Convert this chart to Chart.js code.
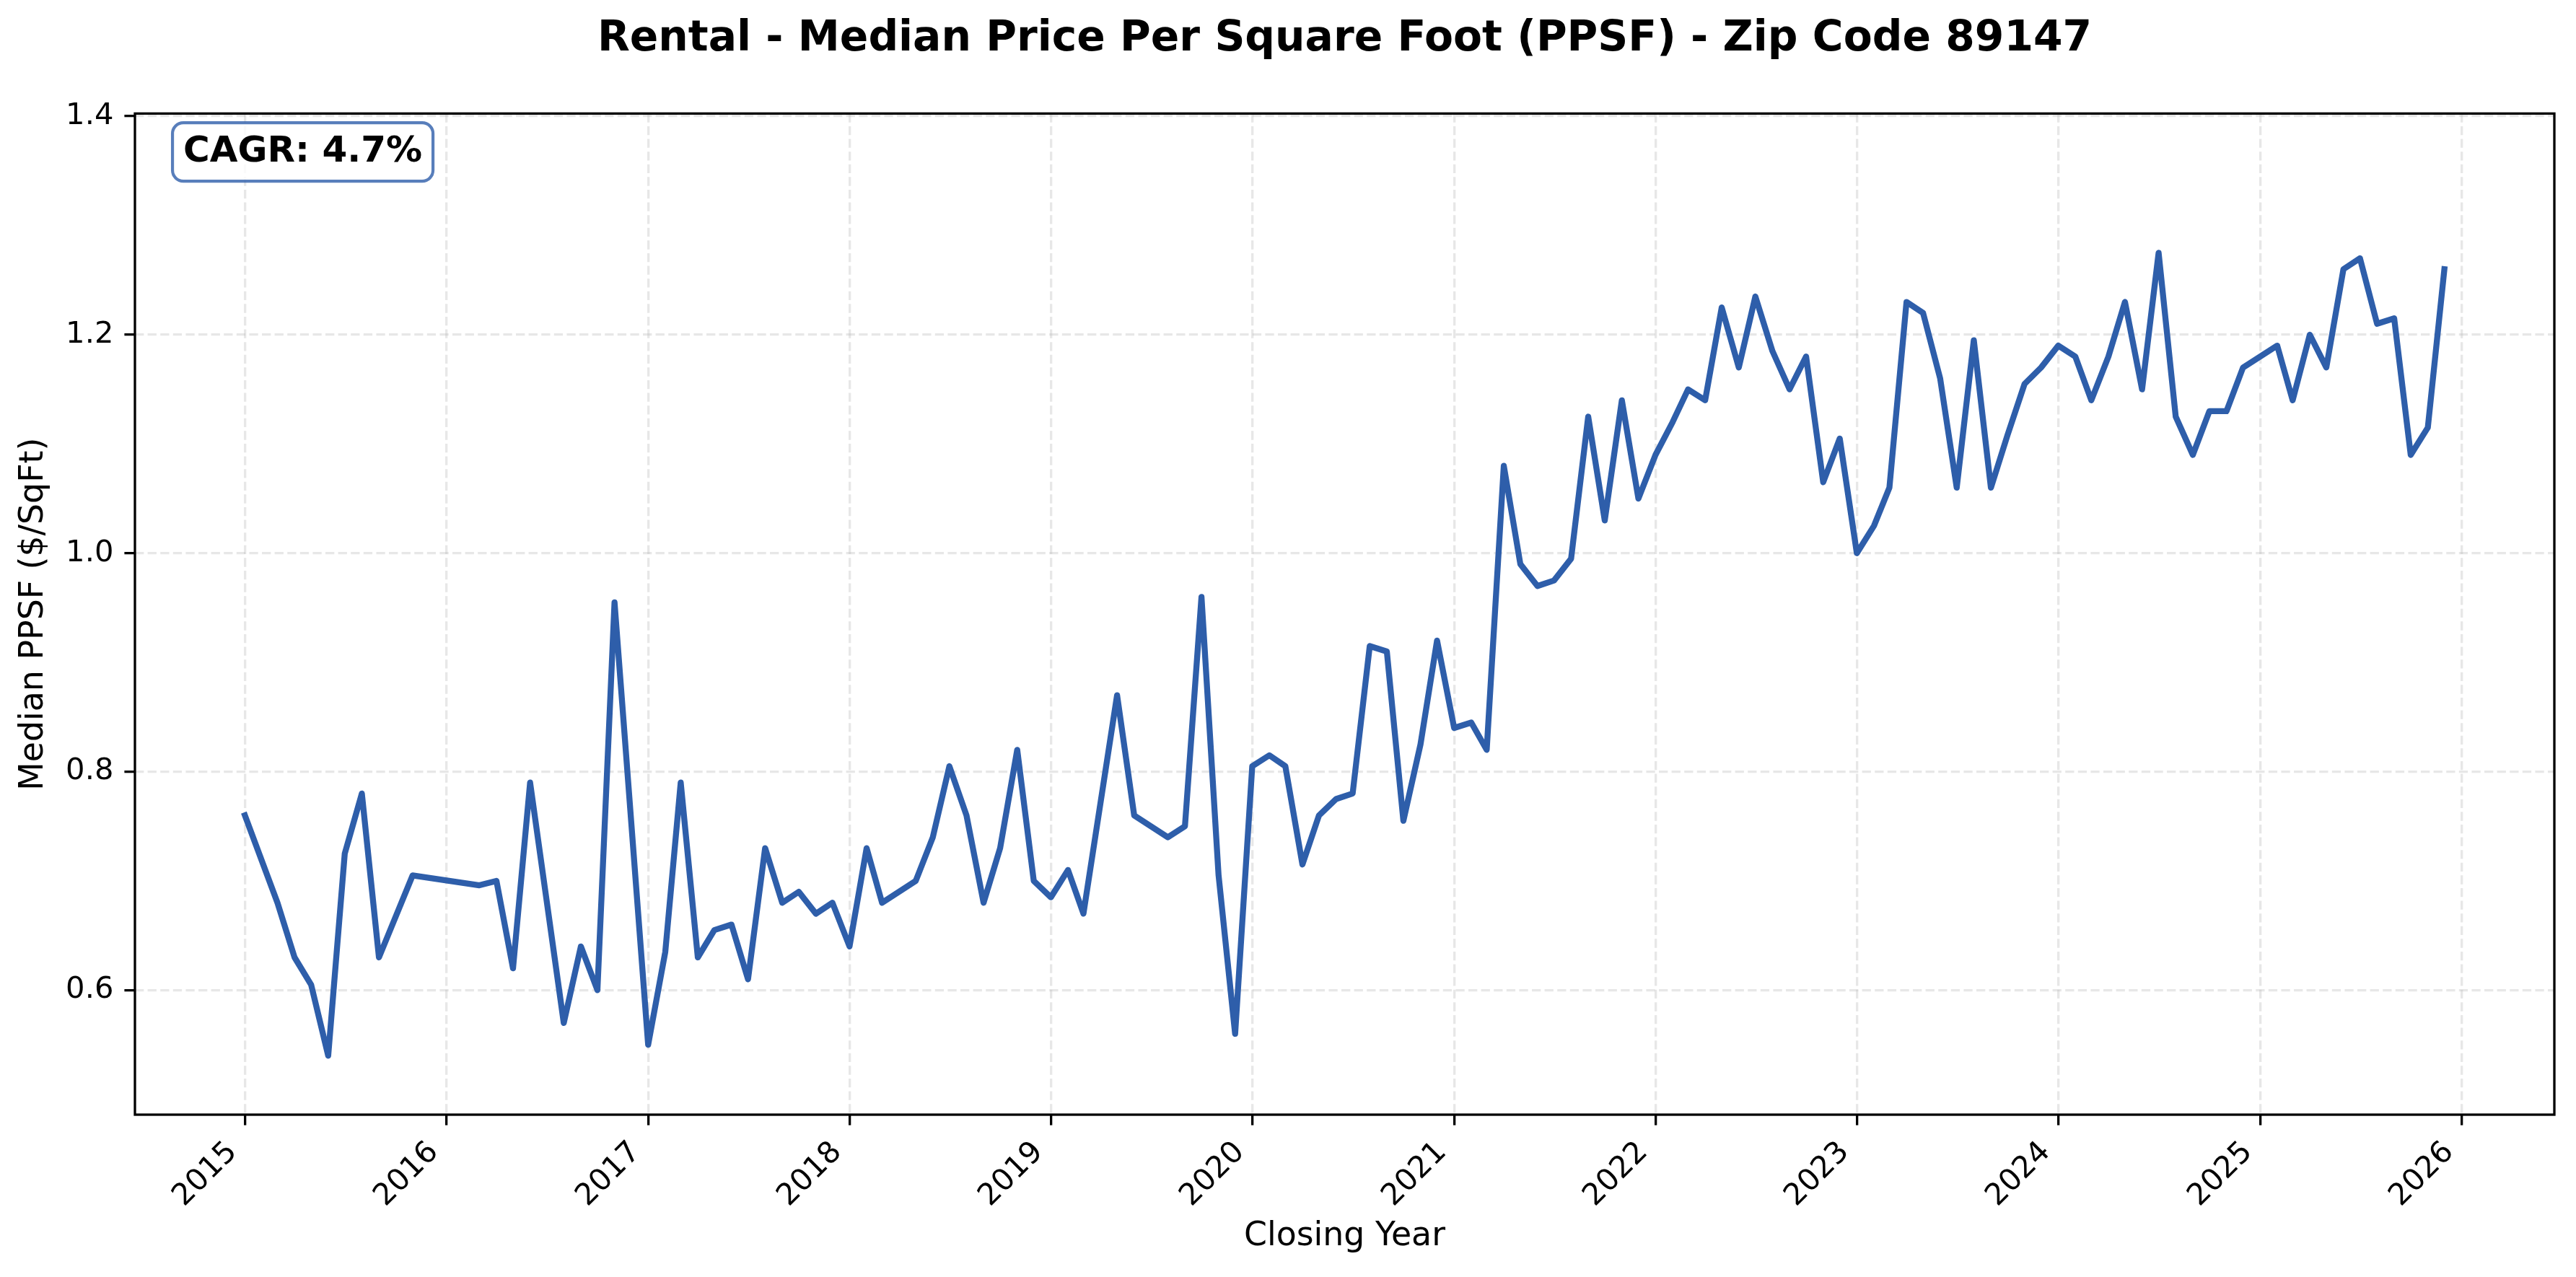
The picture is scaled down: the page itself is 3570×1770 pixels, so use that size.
<!DOCTYPE html>
<html><head><meta charset="utf-8">
<script src="https://cdn.jsdelivr.net/npm/chart.js@4.4.1/dist/chart.umd.min.js"></script>
<style>html,body{margin:0;padding:0;background:#fff;overflow:hidden}canvas{display:block}</style>
</head><body>
<canvas id="c" width="3570" height="1770" style="width:3570px;height:1770px"></canvas>
<script>
// ---- data ----
const months = [
 '2015-01','2015-03','2015-04','2015-05','2015-06','2015-07','2015-08','2015-09','2015-11',
 '2016-03','2016-04','2016-05','2016-06','2016-08','2016-09','2016-10','2016-11',
 '2017-01','2017-02','2017-03','2017-04','2017-05','2017-06','2017-07','2017-08','2017-09','2017-10','2017-11','2017-12',
 '2018-01','2018-02','2018-03','2018-05','2018-06','2018-07','2018-08','2018-09','2018-10','2018-11','2018-12',
 '2019-01','2019-02','2019-03','2019-05','2019-06','2019-08','2019-09','2019-10','2019-11','2019-12',
 '2020-01','2020-02','2020-03','2020-04','2020-05','2020-06','2020-07','2020-08','2020-09','2020-10','2020-11','2020-12',
 '2021-01','2021-02','2021-03','2021-04','2021-05','2021-06','2021-07','2021-08','2021-09','2021-10','2021-11','2021-12',
 '2022-01','2022-02','2022-03','2022-04','2022-05','2022-06','2022-07','2022-08','2022-09','2022-10','2022-11','2022-12',
 '2023-01','2023-02','2023-03','2023-04','2023-05','2023-06','2023-07','2023-08','2023-09','2023-10','2023-11','2023-12',
 '2024-01','2024-02','2024-03','2024-04','2024-05','2024-06','2024-07','2024-08','2024-09','2024-10','2024-11','2024-12',
 '2025-01','2025-02','2025-03','2025-04','2025-05','2025-06','2025-07','2025-08','2025-09','2025-10','2025-11','2025-12'
];
const ppsf = [
 0.76,0.68,0.63,0.605,0.54,0.725,0.78,0.63,0.705,
 0.696,0.70,0.62,0.79,0.57,0.64,0.60,0.955,
 0.55,0.635,0.79,0.63,0.655,0.66,0.61,0.73,0.68,0.69,0.67,0.68,
 0.64,0.73,0.68,0.70,0.74,0.805,0.76,0.68,0.73,0.82,0.70,
 0.685,0.71,0.67,0.87,0.76,0.74,0.75,0.96,0.705,0.56,
 0.805,0.815,0.805,0.715,0.76,0.775,0.78,0.915,0.91,0.755,0.825,0.92,
 0.84,0.845,0.82,1.08,0.99,0.97,0.975,0.995,1.125,1.03,1.14,1.05,
 1.09,1.12,1.15,1.14,1.225,1.17,1.235,1.185,1.15,1.18,1.065,1.105,
 1.00,1.025,1.06,1.23,1.22,1.16,1.06,1.195,1.06,1.108,1.155,1.17,
 1.19,1.18,1.14,1.18,1.23,1.15,1.275,1.125,1.09,1.13,1.13,1.17,
 1.18,1.19,1.14,1.20,1.17,1.26,1.27,1.21,1.215,1.09,1.115,1.26
];
const yearTicks = [2015,2016,2017,2018,2019,2020,2021,2022,2023,2024,2025,2026];
const yTicks = [0.6,0.8,1.0,1.2,1.4];
const titleText = 'Rental - Median Price Per Square Foot (PPSF) - Zip Code 89147';
const xTitle = 'Closing Year';
const yTitle = 'Median PPSF ($/SqFt)';
const cagrText = 'CAGR: 4.7%';

// ---- derived ----
const FONT = 'DejaVu Sans';
const LINE = '#2E5EAA';
const toTs = s => { const [y, m] = s.split('-').map(Number); return Date.UTC(y, m - 1, 1); };
const pts = months.map((m, i) => ({x: toTs(m), y: ppsf[i]}));
const x0 = pts[0].x, x1 = pts[pts.length - 1].x, span = x1 - x0;
const yMin = Math.min(...ppsf) * 0.9, yMax = Math.max(...ppsf) * 1.1;

const gridCommon = {color: 'rgba(176,176,176,0.3)', lineWidth: 3.3, tickColor: '#000', tickWidth: 3.3, tickLength: 14.6, tickBorderDash: []};
const borderCommon = {display: false, dash: [12.3, 5.3]};

const framePlugin = {
  id: 'frame',
  afterDatasetsDraw(chart) {
    const {ctx, chartArea: a} = chart;
    ctx.save();
    ctx.strokeStyle = '#000';
    ctx.lineWidth = 3.3;
    ctx.strokeRect(a.left, a.top, a.right - a.left, a.bottom - a.top);
    ctx.restore();
  }
};
const cagrPlugin = {
  id: 'cagr',
  afterDraw(chart) {
    const {ctx, chartArea: a} = chart;
    const fs = 50, pad = 15;
    ctx.save();
    ctx.font = 'bold ' + fs + 'px "' + FONT + '"';
    const w = ctx.measureText(cagrText).width;
    const tx = a.left + 0.02 * (a.right - a.left);
    const ttop = a.top + 0.02 * (a.bottom - a.top);
    const base = ttop + 0.78 * fs;
    const bx = tx - pad, by = ttop - pad, bw = w + 2 * pad, bh = (base + 0.24 * fs + pad) - by;
    const r = pad;
    ctx.beginPath();
    ctx.moveTo(bx + r, by);
    ctx.lineTo(bx + bw - r, by); ctx.arcTo(bx + bw, by, bx + bw, by + r, r);
    ctx.lineTo(bx + bw, by + bh - r); ctx.arcTo(bx + bw, by + bh, bx + bw - r, by + bh, r);
    ctx.lineTo(bx + r, by + bh); ctx.arcTo(bx, by + bh, bx, by + bh - r, r);
    ctx.lineTo(bx, by + r); ctx.arcTo(bx, by, bx + r, by, r);
    ctx.closePath();
    ctx.fillStyle = 'rgba(255,255,255,0.8)';
    ctx.fill();
    ctx.strokeStyle = 'rgba(46,94,170,0.8)';
    ctx.lineWidth = 4.2;
    ctx.stroke();
    ctx.fillStyle = '#000';
    ctx.textBaseline = 'alphabetic';
    ctx.textAlign = 'left';
    ctx.fillText(cagrText, tx, base);
    ctx.restore();
  }
};

Chart.defaults.font.family = FONT;
Chart.defaults.color = '#000';

new Chart(document.getElementById('c'), {
  type: 'line',
  data: {datasets: [{
    data: pts, borderColor: LINE, borderWidth: 8.3, pointRadius: 0, tension: 0,
    borderJoinStyle: 'round', borderCapStyle: 'square', fill: false
  }]},
  options: {
    responsive: false, animation: false, devicePixelRatio: 1,
    layout: {padding: {left: 0, right: 30, top: 0, bottom: 0}},
    plugins: {
      legend: {display: false}, tooltip: {enabled: false},
      title: {display: true, text: titleText, fullSize: false, color: '#000',
        font: {family: FONT, size: 58.3, weight: 'bold'}, padding: {top: 20, bottom: 67.4}}
    },
    scales: {
      x: {
        type: 'linear', min: x0 - 0.05 * span, max: x1 + 0.05 * span,
        afterBuildTicks: s => { s.ticks = yearTicks.map(y => ({value: Date.UTC(y, 0, 1)})); },
        afterFit: s => { s.height = 225; },
        ticks: {autoSkip: false, maxRotation: 45, minRotation: 45, padding: 13.4, labelOffset: -17,
          color: '#000', font: {family: FONT, size: 41.7},
          callback: v => String(new Date(v).getUTCFullYear())},
        grid: gridCommon, border: borderCommon,
        title: {display: true, text: xTitle, color: '#000', font: {family: FONT, size: 45.8}, padding: {top: 0, bottom: 28.5}}
      },
      y: {
        type: 'linear', min: yMin, max: yMax,
        afterBuildTicks: s => { s.ticks = yTicks.map(v => ({value: v})); },
        afterFit: s => { s.width = 187; },
        ticks: {padding: 15, color: '#000', font: {family: FONT, size: 41.7}, callback: v => Number(v).toFixed(1)},
        grid: gridCommon, border: borderCommon,
        title: {display: true, text: yTitle, color: '#000', font: {family: FONT, size: 45.8}, padding: {top: 19.5, bottom: 0}}
      }
    }
  },
  plugins: [framePlugin, cagrPlugin]
});
</script>
</body></html>
